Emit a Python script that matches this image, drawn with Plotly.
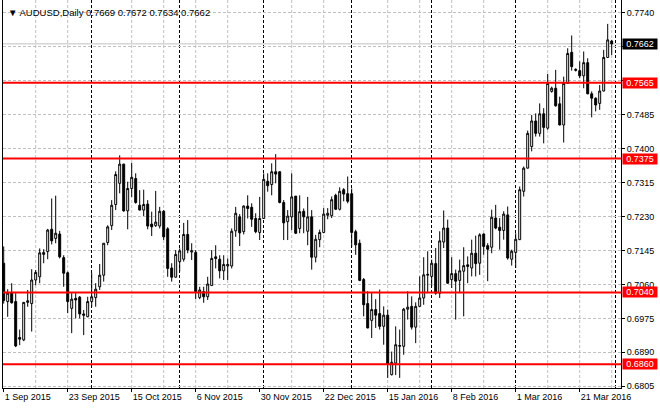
import plotly.graph_objects as go

symbol = "AUDUSD,Daily"

opens = [0.7113, 0.7017, 0.7040, 0.7017, 0.6927, 0.6921, 0.7015, 0.7012, 0.7071, 0.7079,
         0.7135, 0.7142, 0.7198, 0.7175, 0.7186, 0.7127, 0.7089, 0.7000, 0.7025, 0.7028,
         0.6986, 0.6979, 0.7017, 0.7027, 0.7054, 0.7083, 0.7165, 0.7207, 0.7260, 0.7313,
         0.7361, 0.7244, 0.7300, 0.7325, 0.7258, 0.7246, 0.7261, 0.7211, 0.7207, 0.7206,
         0.7243, 0.7199, 0.7101, 0.7078, 0.7117, 0.7123, 0.7185, 0.7141, 0.7140, 0.7027,
         0.7042, 0.7029, 0.7057, 0.7129, 0.7123, 0.7094, 0.7106, 0.7106, 0.7194, 0.7229,
         0.7192, 0.7256, 0.7253, 0.7225, 0.7190, 0.7225, 0.7318, 0.7310, 0.7342, 0.7342,
         0.7265, 0.7217, 0.7229, 0.7281, 0.7200, 0.7243, 0.7193, 0.7229, 0.7128, 0.7172,
         0.7190, 0.7233, 0.7232, 0.7283, 0.7248, 0.7297, 0.7287, 0.7287, 0.7192, 0.7163,
         0.7072, 0.7012, 0.6970, 0.6997, 0.6987, 0.6955, 0.6983, 0.6834, 0.6863, 0.6905,
         0.6905, 0.6998, 0.7005, 0.6953, 0.7005, 0.7026, 0.7083, 0.7080, 0.7112, 0.7038,
         0.7166, 0.7201, 0.7072, 0.7087, 0.7070, 0.7093, 0.7109, 0.7101, 0.7138, 0.7113,
         0.7186, 0.7157, 0.7153, 0.7226, 0.7203, 0.7195, 0.7234, 0.7123, 0.7140, 0.7172,
         0.7293, 0.7351, 0.7405, 0.7469, 0.7438, 0.7487, 0.7451, 0.7543, 0.7551, 0.7512,
         0.7459, 0.7563, 0.7641, 0.7598, 0.7595, 0.7582, 0.7615, 0.7537, 0.7526, 0.7513,
         0.7544, 0.7628, 0.7669]
highs = [0.7155, 0.7048, 0.7063, 0.7038, 0.6947, 0.7016, 0.7046, 0.7098, 0.7096, 0.7150,
         0.7148, 0.7199, 0.7275, 0.7282, 0.7194, 0.7133, 0.7092, 0.7038, 0.7038, 0.7031,
         0.6996, 0.7029, 0.7089, 0.7063, 0.7111, 0.7163, 0.7208, 0.7271, 0.7343, 0.7383,
         0.7362, 0.7317, 0.7364, 0.7338, 0.7296, 0.7297, 0.7271, 0.7242, 0.7294, 0.7254,
         0.7246, 0.7203, 0.7113, 0.7146, 0.7150, 0.7214, 0.7221, 0.7163, 0.7146, 0.7054,
         0.7054, 0.7079, 0.7146, 0.7158, 0.7133, 0.7133, 0.7125, 0.7200, 0.7254, 0.7236,
         0.7258, 0.7283, 0.7263, 0.7238, 0.7279, 0.7338, 0.7338, 0.7363, 0.7386, 0.7342,
         0.7271, 0.7246, 0.7338, 0.7281, 0.7283, 0.7250, 0.7279, 0.7246, 0.7184, 0.7197,
         0.7251, 0.7251, 0.7280, 0.7287, 0.7303, 0.7301, 0.7330, 0.7300, 0.7197, 0.7172,
         0.7076, 0.7043, 0.7038, 0.7023, 0.7047, 0.7005, 0.6997, 0.6892, 0.6955, 0.6947,
         0.7001, 0.7043, 0.7030, 0.7015, 0.7080, 0.7128, 0.7143, 0.7122, 0.7151, 0.7193,
         0.7245, 0.7222, 0.7128, 0.7097, 0.7122, 0.7153, 0.7130, 0.7172, 0.7182, 0.7188,
         0.7188, 0.7163, 0.7247, 0.7259, 0.7226, 0.7243, 0.7255, 0.7147, 0.7188, 0.7305,
         0.7355, 0.7445, 0.7484, 0.7488, 0.7513, 0.7501, 0.7587, 0.7555, 0.7597, 0.7530,
         0.7580, 0.7651, 0.7683, 0.7601, 0.7618, 0.7643, 0.7626, 0.7543, 0.7528, 0.7559,
         0.7647, 0.7712, 0.7672]
lows = [0.7012, 0.6979, 0.7012, 0.6903, 0.6908, 0.6918, 0.7004, 0.6942, 0.7058, 0.7063,
        0.7113, 0.7123, 0.7160, 0.7163, 0.7125, 0.7054, 0.6988, 0.6938, 0.6975, 0.6975,
        0.6933, 0.6978, 0.7004, 0.7004, 0.7046, 0.7067, 0.7158, 0.7196, 0.7246, 0.7288,
        0.7242, 0.7198, 0.7279, 0.7262, 0.7245, 0.7231, 0.7198, 0.7181, 0.7204, 0.7200,
        0.7171, 0.7079, 0.7067, 0.7077, 0.7092, 0.7117, 0.7138, 0.7121, 0.7023, 0.7023,
        0.7014, 0.7021, 0.7057, 0.7100, 0.7075, 0.7071, 0.7071, 0.7100, 0.7179, 0.7156,
        0.7185, 0.7225, 0.7204, 0.7188, 0.7171, 0.7224, 0.7292, 0.7283, 0.7313, 0.7263,
        0.7171, 0.7171, 0.7196, 0.7186, 0.7188, 0.7188, 0.7158, 0.7097, 0.7115, 0.7153,
        0.7188, 0.7223, 0.7226, 0.7246, 0.7245, 0.7268, 0.7263, 0.7154, 0.7134, 0.7068,
        0.6980, 0.6950, 0.6926, 0.6951, 0.6947, 0.6909, 0.6826, 0.6832, 0.6833, 0.6826,
        0.6884, 0.6972, 0.6947, 0.6913, 0.7004, 0.7009, 0.7038, 0.7055, 0.7034, 0.7026,
        0.7151, 0.7062, 0.7051, 0.6972, 0.7038, 0.6980, 0.7063, 0.7080, 0.7080, 0.7084,
        0.7134, 0.7068, 0.7138, 0.7198, 0.7147, 0.7172, 0.7122, 0.7107, 0.7101, 0.7171,
        0.7280, 0.7350, 0.7393, 0.7430, 0.7430, 0.7413, 0.7447, 0.7540, 0.7505, 0.7458,
        0.7415, 0.7562, 0.7595, 0.7593, 0.7576, 0.7551, 0.7536, 0.7478, 0.7493, 0.7497,
        0.7543, 0.7627, 0.7634]
closes = [0.7020, 0.7038, 0.7014, 0.6906, 0.6923, 0.7015, 0.7019, 0.7071, 0.7090, 0.7139,
          0.7140, 0.7196, 0.7169, 0.7188, 0.7129, 0.7088, 0.7017, 0.7023, 0.7021, 0.6986,
          0.6983, 0.7017, 0.7029, 0.7048, 0.7083, 0.7163, 0.7204, 0.7258, 0.7335, 0.7361,
          0.7244, 0.7300, 0.7328, 0.7265, 0.7246, 0.7260, 0.7206, 0.7204, 0.7216, 0.7243,
          0.7179, 0.7100, 0.7078, 0.7135, 0.7144, 0.7185, 0.7146, 0.7144, 0.7042, 0.7046,
          0.7029, 0.7061, 0.7125, 0.7125, 0.7094, 0.7110, 0.7110, 0.7193, 0.7238, 0.7189,
          0.7256, 0.7250, 0.7223, 0.7192, 0.7225, 0.7323, 0.7307, 0.7342, 0.7336, 0.7265,
          0.7214, 0.7231, 0.7279, 0.7188, 0.7242, 0.7229, 0.7229, 0.7128, 0.7173, 0.7190,
          0.7236, 0.7238, 0.7272, 0.7248, 0.7293, 0.7286, 0.7268, 0.7190, 0.7159, 0.7070,
          0.7009, 0.6951, 0.6997, 0.6983, 0.6955, 0.6983, 0.6861, 0.6865, 0.6909, 0.6907,
          0.6998, 0.7003, 0.6953, 0.7005, 0.7026, 0.7084, 0.7085, 0.7113, 0.7038, 0.7169,
          0.7201, 0.7063, 0.7087, 0.7068, 0.7094, 0.7107, 0.7105, 0.7138, 0.7112, 0.7184,
          0.7155, 0.7148, 0.7228, 0.7201, 0.7195, 0.7236, 0.7126, 0.7143, 0.7173, 0.7297,
          0.7351, 0.7438, 0.7469, 0.7438, 0.7487, 0.7453, 0.7563, 0.7551, 0.7507, 0.7459,
          0.7563, 0.7638, 0.7605, 0.7596, 0.7582, 0.7615, 0.7537, 0.7526, 0.7509, 0.7544,
          0.7628, 0.7672, 0.7662]

date_labels = ["1 Sep 2015", "23 Sep 2015", "15 Oct 2015", "6 Nov 2015", "30 Nov 2015",
               "22 Dec 2015", "15 Jan 2016", "8 Feb 2016", "1 Mar 2016", "21 Mar 2016"]
price_ticks = [0.6805, 0.6890, 0.6975, 0.7060, 0.7145, 0.7230, 0.7315, 0.7400,
               0.7485, 0.7570, 0.7655, 0.7740]
level_prices = [0.7565, 0.7375, 0.7040, 0.6860]
month_starts = [22, 44, 65, 87, 107, 128, 153]

FONT = "Liberation Sans, Arial, sans-serif"
GRID = "#c0c0c0"
n = len(opens)
xs = list(range(n))
last = closes[-1]

# tick labels fully hidden behind the price boxes are left blank (as in the terminal)
box_prices = level_prices + [last]
price_text = []
for v in price_ticks:
    hidden = any(abs(v - b) < 0.0012 for b in box_prices)
    price_text.append("" if hidden else f"{v:.4f}")

fig = go.Figure()
fig.add_trace(go.Candlestick(
    x=xs, open=opens, high=highs, low=lows, close=closes,
    increasing=dict(fillcolor="white", line=dict(color="black", width=1)),
    decreasing=dict(fillcolor="black", line=dict(color="black", width=1)),
    whiskerwidth=0, hoverinfo="skip", showlegend=False,
))

shapes = []
grid_idx = [8, 16, 32, 40, 48, 56, 72, 80, 96, 104, 112, 120, 136, 144, 152]
for g in grid_idx:
    shapes.append(dict(type="line", xref="x", yref="paper", x0=g, x1=g, y0=0, y1=1,
                       layer="below", line=dict(color=GRID, width=1, dash="3px,2px")))
for m in month_starts:
    shapes.append(dict(type="line", xref="x", yref="paper", x0=m - 0.05, x1=m - 0.05, y0=0, y1=1,
                       layer="below", line=dict(color="black", width=1, dash="3px,2px")))
shapes.append(dict(type="line", xref="paper", yref="y", x0=0, x1=1, y0=last, y1=last,
                   layer="below", line=dict(color=GRID, width=1)))
for p in level_prices:
    shapes.append(dict(type="line", xref="paper", yref="y", x0=0, x1=1, y0=p, y1=p,
                       layer="above", line=dict(color="#ff0000", width=2)))

annotations = []
for p in level_prices:
    annotations.append(dict(xref="paper", yref="y", x=1, y=p, xanchor="left", yanchor="middle",
                            xshift=1, text=f"{p:.4f}", showarrow=False, bgcolor="#ff0000",
                            font=dict(family=FONT, size=9, color="white"),
                            width=32, height=8, borderpad=1))
annotations.append(dict(xref="paper", yref="y", x=1, y=last, xanchor="left", yanchor="middle",
                        xshift=1, text=f"{last:.4f}", showarrow=False, bgcolor="black",
                        font=dict(family=FONT, size=9, color="white"),
                        width=32, height=8, borderpad=1))
header = ("▼ " + symbol + " " +
          " ".join(f"{v:.4f}" for v in (opens[-1], highs[-1], lows[-1], closes[-1])))
annotations.append(dict(xref="paper", yref="paper", x=0, y=1, xanchor="left", yanchor="middle",
                        xshift=3, yshift=-12, text=header, showarrow=False,
                        font=dict(family=FONT, size=9.5, color="black")))

fig.update_layout(
    width=660, height=410,
    margin=dict(l=3, r=39, t=0, b=22),
    paper_bgcolor="white", plot_bgcolor="white",
    font=dict(family=FONT, size=9, color="black"),
    shapes=shapes, annotations=annotations,
    showlegend=False,
    xaxis=dict(
        range=[-0.175, 154.325],
        tickvals=list(range(0, n, 16))[:len(date_labels)], ticktext=date_labels,
        ticks="outside", ticklen=3, tickcolor="black",
        ticklabelposition="outside right",
        showline=True, linecolor="black", linewidth=1,
        showgrid=False, zeroline=False,
        rangeslider=dict(visible=False),
        tickfont=dict(family=FONT, size=9, color="black"),
        fixedrange=True,
    ),
    yaxis=dict(
        side="right",
        range=[0.68007, 0.77718],
        tickvals=price_ticks, ticktext=price_text,
        ticks="outside", ticklen=3, tickcolor="black",
        showline=True, linecolor="black", linewidth=1, mirror=True,
        showgrid=True, gridcolor=GRID, griddash="3px,2px", gridwidth=1,
        zeroline=False,
        tickfont=dict(family=FONT, size=9, color="black"),
        fixedrange=True,
    ),
)

fig.write_html("out.html", config={"displayModeBar": False},
               post_script="document.body.style.margin='0';document.body.style.overflow='hidden';")
